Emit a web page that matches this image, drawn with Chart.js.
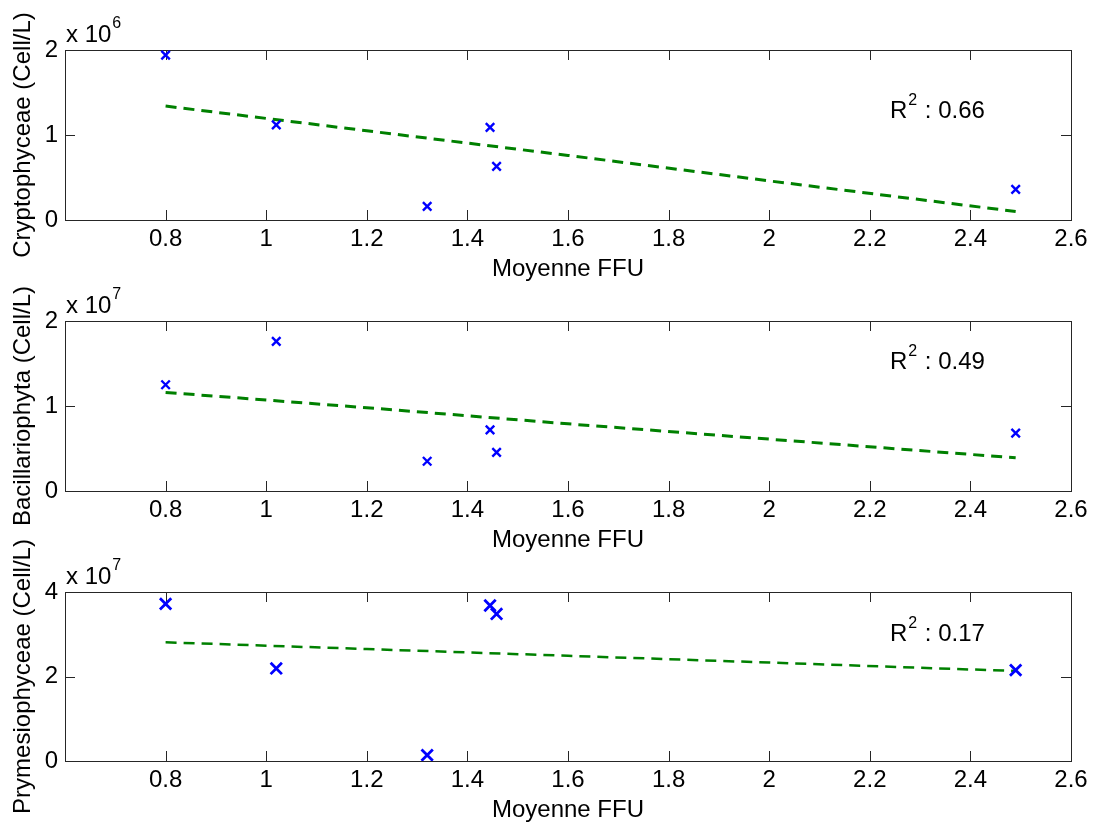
<!DOCTYPE html>
<html lang="fr">
<head>
<meta charset="UTF-8">
<title>Moyenne FFU - régressions</title>
<script src="https://cdn.jsdelivr.net/npm/chart.js"></script>
<style>
  html, body { margin: 0; padding: 0; background: #fff; }
  #wrap { position: relative; width: 1095px; height: 825px; }
  #wrap canvas { position: absolute; left: 0; top: 0; }
</style>
</head>
<body>
<div id="wrap">
  <canvas id="c1" width="1095" height="825"></canvas>
  <canvas id="c2" width="1095" height="825"></canvas>
  <canvas id="c3" width="1095" height="825"></canvas>
</div>

<script>
// valeurs
const ffu = [0.8, 1.02, 1.32, 1.445, 1.458, 2.49];

const crypto = [1.94e6, 1.12e6, 0.16e6, 1.09e6, 0.63e6, 0.36e6];
const bacil = [1.25e7, 1.76e7, 0.35e7, 0.72e7, 0.455e7, 0.68e7];
const prymn = [3.72e7, 2.19e7, 0.14e7, 3.68e7, 3.48e7, 2.15e7];

// droites de tendance (pointillés verts)
const fitX = [0.8, 1.2, 1.6, 2.0, 2.49];
const cryptoFit = [1.34e6, 1.05e6, 0.76e6, 0.46e6, 0.10e6];
const bacilFit = [1.16e7, 0.98e7, 0.79e7, 0.61e7, 0.39e7];
const prymnFit = [2.81e7, 2.65e7, 2.49e7, 2.33e7, 2.13e7];

const xTicks = [0.8, 1, 1.2, 1.4, 1.6, 1.8, 2, 2.2, 2.4, 2.6];
const r2 = ['0.66', '0.49', '0.17'];

const FONT = "'Liberation Sans', Arial, Helvetica, sans-serif";
const W = 1095, H = 825;

// boîte, graduations internes, exposant et R²
const matlabAxes = {
  id: 'matlabAxes',
  beforeDatasetsDraw(chart, args, opts) {
    const { ctx, chartArea: a, scales: { x, y } } = chart;
    ctx.save();
    ctx.strokeStyle = '#262626';
    ctx.lineWidth = 1;
    ctx.strokeRect(a.left + 0.5, a.top + 0.5, a.right - a.left, a.bottom - a.top);
    ctx.beginPath();
    x.ticks.forEach(t => {
      if (t.value < 0.7) return;
      const px = Math.round(x.getPixelForValue(t.value)) + 0.5;
      ctx.moveTo(px, a.bottom); ctx.lineTo(px, a.bottom - 10);
      ctx.moveTo(px, a.top); ctx.lineTo(px, a.top + 10);
    });
    y.ticks.forEach(t => {
      const py = Math.round(y.getPixelForValue(t.value)) + 0.5;
      ctx.moveTo(a.left, py); ctx.lineTo(a.left + 10, py);
      ctx.moveTo(a.right, py); ctx.lineTo(a.right - 10, py);
    });
    ctx.stroke();
    ctx.restore();
  },
  afterDraw(chart, args, opts) {
    const { ctx, chartArea: a, scales: { x, y } } = chart;
    ctx.save();
    ctx.fillStyle = '#000';
    ctx.textBaseline = 'alphabetic';
    ctx.textAlign = 'left';
    // x 10^n
    ctx.font = '24px ' + FONT;
    ctx.fillText('x 10', a.left + 1, a.top - 8);
    const w1 = ctx.measureText('x 10').width;
    ctx.font = '16px ' + FONT;
    ctx.fillText(opts.exp, a.left + 2 + w1, a.top - 22);
    // R²
    const rx = x.getPixelForValue(opts.rx);
    const ry = y.getPixelForValue(opts.ry);
    ctx.font = '24px ' + FONT;
    ctx.fillText('R', rx, ry);
    const wr = ctx.measureText('R').width;
    ctx.font = '16px ' + FONT;
    ctx.fillText('2', rx + wr + 1, ry - 13);
    const w2 = ctx.measureText('2').width;
    ctx.font = '24px ' + FONT;
    ctx.fillText(' : ' + opts.r2, rx + wr + w2 + 2, ry);
    ctx.restore();
  }
};

function makePanel(id, yVals, fitVals, yMax, yStep, unit, exp, yTitle, top, bottom, markR, markW, lineW, rPos, r2txt) {
  return new Chart(document.getElementById(id), {
    type: 'scatter',
    data: {
      datasets: [
        {
          data: ffu.map((v, i) => ({ x: v, y: yVals[i] })),
          pointStyle: 'crossRot',
          pointRadius: markR,
          pointBorderWidth: markW,
          borderColor: '#0000ff',
          backgroundColor: '#0000ff'
        },
        {
          type: 'line',
          data: fitX.map((v, i) => ({ x: v, y: fitVals[i] })),
          borderColor: '#008000',
          borderWidth: lineW,
          borderDash: [11, 7],
          pointRadius: 0,
          fill: false,
          tension: 0
        }
      ]
    },
    options: {
      responsive: false,
      animation: false,
      events: [],
      layout: { padding: { top: top, left: 0, right: W - 1071, bottom: H - bottom - 64 } },
      plugins: {
        legend: { display: false },
        tooltip: { enabled: false },
        matlabAxes: { exp: exp, rx: rPos[0], ry: rPos[1], r2: r2txt }
      },
      scales: {
        x: {
          type: 'linear',
          min: 0.6,
          max: 2.6,
          afterBuildTicks: s => { s.ticks = [0.6].concat(xTicks).map(v => ({ value: v })); },
          ticks: {
            padding: 5,
            color: '#000',
            font: { family: FONT, size: 24 },
            maxRotation: 0,
            autoSkip: false,
            callback: v => v < 0.7 ? '' : String(Math.round(v * 10) / 10)
          },
          grid: { display: false, drawTicks: false },
          border: { display: false },
          title: {
            display: true,
            text: 'Moyenne FFU',
            color: '#000',
            font: { family: FONT, size: 24 },
            padding: { top: 0, bottom: 0 }
          },
          afterFit: s => { s.height = 64; }
        },
        y: {
          min: 0,
          max: yMax,
          ticks: {
            stepSize: yStep,
            padding: 7,
            color: '#000',
            font: { family: FONT, size: 24 },
            callback: v => String(Math.round(v / unit))
          },
          grid: { display: false, drawTicks: false },
          border: { display: false },
          title: {
            display: true,
            text: yTitle,
            color: '#000',
            font: { family: FONT, size: 24 },
            padding: { top: 9, bottom: 0 }
          },
          afterFit: s => { s.width = 65; }
        }
      }
    },
    plugins: [matlabAxes]
  });
}

makePanel('c1', crypto, cryptoFit, 2e6, 1e6, 1e6, '6', 'Cryptophyceae (Cell/L)', 50, 220, 6, 2.4, 3, [2.24, 1.2e6], r2[0]);
makePanel('c2', bacil, bacilFit, 2e7, 1e7, 1e7, '7', 'Bacillariophyta (Cell/L)', 321, 491, 6, 2.4, 3, [2.24, 1.43e7], r2[1]);
makePanel('c3', prymn, prymnFit, 4e7, 2e7, 1e7, '7', 'Prymesiophyceae (Cell/L)', 592, 761, 8, 2.8, 2.5, [2.24, 2.83e7], r2[2]);
</script>
</body>
</html>
